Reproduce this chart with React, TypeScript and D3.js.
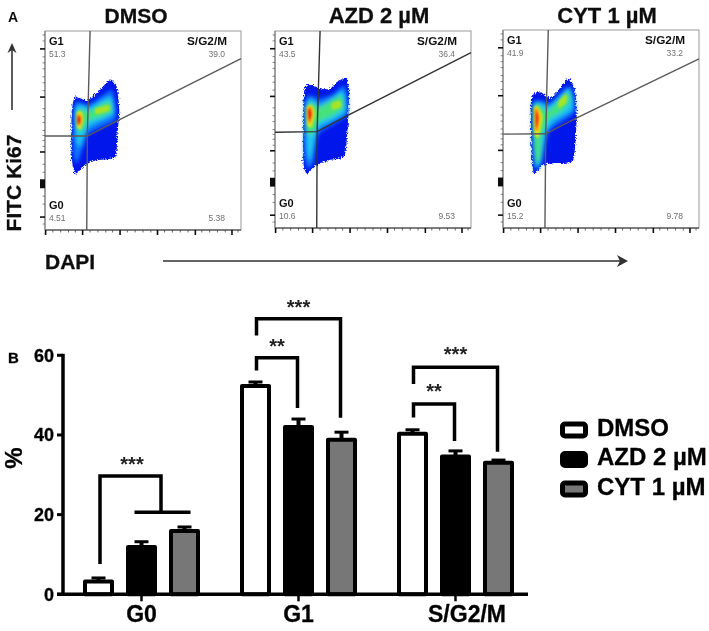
import * as d3 from "d3"

// ---- flow panels ----
const panelNames = ["DMSO", "AZD 2 µM", "CYT 1 µM"]
const g1Values = ["51.3", "43.5", "41.9"]
const sg2mValues = ["39.0", "36.4", "33.2"]
const g0Values = ["4.51", "10.6", "15.2"]
const rightLowValues = ["5.38", "9.53", "9.78"]

// gate vertices, in percent of the panel axes
const gateVertical = [
  [[23, 100], [21.6, 47.2], [21.3, 0]],
  [[23, 100], [21.5, 48.9], [21.3, 0]],
  [[23.1, 100], [21.8, 47.6], [21.4, 0]],
]
const gateCurve = [
  [[0, 47.2], [21.6, 47.2], [35.8, 54.3], [100, 86.1]],
  [[0, 48.6], [21.5, 48.9], [37.4, 57.3], [100, 89]],
  [[0, 47.4], [21.8, 47.6], [37.4, 55.5], [100, 85.4]],
]

// density contours, percent of panel axes, outermost first
const densityColors = ["#0418ea", "#0c78ff", "#1cc8ee", "#44e27a", "#d8e61e", "#ff8a10", "#e8140c"]
const dmsoContours = [
  [[15.3, 67], [21.3, 65], [28.1, 70.4], [33.2, 75.7], [36.6, 72], [37.9, 60.3], [37, 48.6], [35.7, 36.5], [24.7, 34.8], [19.6, 31.8], [15.3, 28.1], [13.6, 36.8], [13.6, 58.6]],
  [[14.8, 60.3], [16.2, 64.5], [22.1, 62.8], [29.8, 67.8], [34, 70.4], [35.7, 63.6], [35.7, 55.3], [22.1, 48.6], [19.6, 41.9], [16.2, 33.5], [14.5, 38.5]],
  [[15.3, 61.1], [19.6, 62.8], [22.1, 61.1], [28.1, 64.5], [33.2, 67], [34.9, 64.5], [34.9, 58.6], [28.9, 55.3], [22.1, 51.9], [19.9, 46.9], [17.9, 41.9], [15.8, 45.2]],
  [[15.8, 59.5], [19.6, 60.3], [22.1, 59.5], [28.1, 62.8], [33.2, 64.5], [34.2, 59.5], [28.1, 56.6], [22.1, 55], [19.9, 51.1], [17, 48.6]],
  [[16.2, 59], [18.7, 59.5], [19.6, 55.3], [18.2, 50.6], [16.5, 51.6]],
  [[16.2, 57.8], [18.2, 58.1], [18.9, 55.3], [17.9, 52.3], [16.5, 52.8]],
  [[16.5, 56.9], [17.9, 56.9], [18.2, 54.9], [17.4, 53.1], [16.7, 53.9]],
]
const azdContours = [
  [[15.3, 71.4], [17.9, 73], [23, 70.9], [28, 70.5], [32.3, 74.7], [36.6, 75.6], [37.8, 70.5], [37.4, 57.1], [35.7, 36.9], [28, 34.4], [21.3, 31.9], [16.2, 27.7], [14.5, 33.6], [14.5, 63.8]],
  [[15.3, 63.8], [17.9, 67.2], [23, 65.5], [29.8, 68], [34.9, 72.2], [36.6, 68.9], [36.6, 57.1], [22.1, 47.9], [19.6, 33.6], [16.7, 30.2], [15, 38.6]],
  [[15.6, 62.1], [18.7, 65.5], [22.4, 62.1], [29.8, 66.3], [34, 69.7], [35.7, 66.3], [35.7, 58.8], [28.9, 54.6], [22.1, 51.2], [20.4, 43.7], [17.9, 33.6], [16.2, 40.3]],
  [[15.6, 60.5], [18.7, 63.8], [22.1, 61.3], [29.8, 65.5], [34, 67.2], [34.9, 61.3], [29.8, 57.1], [22.1, 53.7], [20.1, 48.7], [16.7, 47]],
  [[16.2, 61.3], [19, 62.5], [20.4, 57.9], [18.7, 51.2], [16.5, 52.1]],
  [[16.3, 60.5], [18.4, 61.8], [19.4, 57.9], [18, 52.9], [16.7, 54.6]],
  [[16.8, 59.6], [18, 60.5], [18.7, 57.9], [17.9, 54.6], [17, 55.8]],
]
const cytContours = [
  [[15.1, 67.2], [18.9, 68.9], [24, 65.5], [29.1, 70.6], [33.3, 75.6], [36.7, 69.7], [37.6, 56.3], [35.9, 34.4], [26.5, 32.8], [20.6, 31.9], [15.8, 27.7], [14.6, 37.8], [14.1, 61.3]],
  [[15.1, 63], [19.7, 64.3], [24, 63], [30.8, 69.7], [34.2, 71.4], [36.2, 66.4], [36.2, 58], [23.1, 48.7], [19.7, 32.8], [16.3, 29.4], [15.1, 41.2]],
  [[15.5, 62.2], [19.2, 63], [23.1, 61.3], [29.9, 67.2], [33.8, 70.6], [35.5, 65.5], [35, 59.6], [25.7, 53.8], [22.3, 48.7], [19.7, 34.4], [16.8, 31.1], [15.5, 42.8]],
  [[15.5, 61.3], [18.5, 62.2], [22.3, 58.8], [29.9, 65.5], [33.3, 69.4], [34.2, 64.7], [29.9, 58.8], [23.1, 54.6], [19.7, 46.2], [19.2, 36.1], [16.8, 32.8], [15.8, 44.5]],
  [[15.8, 60.5], [18, 61.3], [20.2, 56.3], [18.5, 46.2], [16.1, 47]],
  [[16.1, 59.6], [17.5, 60.5], [18.9, 56.3], [17.9, 49.6], [16.5, 49.6]],
  [[16.5, 58], [17.3, 58.3], [18, 55.4], [17.3, 51.2], [16.7, 51.2]],
]
const panelContours = [dmsoContours, azdContours, cytContours]
// second lobe of the yellow level, on the S/G2/M shoulder
const shoulderContours = [
  [[25.5, 60.8], [32.3, 62.8], [32.8, 60], [26.4, 58.1]],
  [[28.9, 63.3], [33.2, 64.7], [33.7, 61.3], [29.3, 60.1]],
  [[28.2, 63.8], [32.1, 67.7], [32.5, 63.8], [28.7, 60.5]],
]

const xMajor = [0.3, 19.2, 38.3, 57.4, 76.7, 95.4]
const xMinor = [4, 8, 12, 15.5, 23, 27, 31, 34.5, 42, 46, 50, 54, 61, 65, 69, 73, 80, 84, 88, 92, 98.5]
const yMajor = [6.5, 23.6, 39.2, 66.8, 91]
const yMinor = [3, 13, 17, 29, 33, 42, 45, 47.5, 50, 54, 57, 61, 70, 74, 77, 81, 84, 87, 95, 98]

// ---- bar chart ----
const groups = ["G0", "G1", "S/G2/M"]
const seriesNames = ["DMSO", "AZD 2 µM", "CYT 1 µM"]
const seriesFills = ["#ffffff", "#000000", "#777777"]
const dmsoMeans = [3.2, 52.3, 40.3]
const azdMeans = [11.9, 42, 34.6]
const cytMeans = [15.9, 38.8, 33]
const dmsoErr = [0.9, 1, 1]
const azdErr = [1.3, 2, 1.4]
const cytErr = [1, 1.9, 0.7]
const means = [dmsoMeans, azdMeans, cytMeans]
const errs = [dmsoErr, azdErr, cytErr]
const yTicks = [0, 20, 40, 60]

// significance brackets: y values on the % scale
const brackets = [
  { group: "G1", to: "AZD 2 µM", top: 59.4, fromEnd: 56.2, toEnd: 46.8, stars: "**", starsAt: 63.4 },
  { group: "G1", to: "CYT 1 µM", top: 69.2, fromEnd: 65, toEnd: 44.3, stars: "***", starsAt: 73.2 },
  { group: "S/G2/M", to: "AZD 2 µM", top: 47.8, fromEnd: 44.4, toEnd: 38.5, stars: "**", starsAt: 52.1 },
  { group: "S/G2/M", to: "CYT 1 µM", top: 57, fromEnd: 52.8, toEnd: 35.8, stars: "***", starsAt: 61.4 },
]

const font = "'Liberation Sans', Arial, sans-serif"
const ink = "#000"
const frames = [
  { x0: 45, x1: 241, y0: 31, y1: 230, titleX: 136 },
  { x0: 275, x1: 471, y0: 31, y1: 228, titleX: 379 },
  { x0: 503, x1: 699, y0: 30, y1: 228, titleX: 607 },
]

function Panel({ i }: { i: number }) {
  const f = frames[i]
  const x = d3.scaleLinear().domain([0, 100]).range([f.x0, f.x1])
  const y = d3.scaleLinear().domain([0, 100]).range([f.y1, f.y0])
  const line = d3.line<number[]>().x(d => x(d[0])).y(d => y(d[1]))
  const blob = d3.line<number[]>().x(d => x(d[0])).y(d => y(d[1])).curve(d3.curveCardinalClosed.tension(0.45))
  const label = (t: string, tx: number, ty: number, o: any = {}) =>
    <text x={tx} y={ty} fontFamily={font} fontSize={11} fontWeight={700} fill="#111" {...o}>{t}</text>
  const pct = (t: string, tx: number, ty: number, o: any = {}) =>
    <text x={tx} y={ty} fontFamily={font} fontSize={8.5} fill="#6f6f6f" {...o}>{t}</text>
  const contours = panelContours[i]
  return (
    <g>
      <text x={f.titleX} y={23} textAnchor="middle" fontFamily={font} fontSize={i === 0 ? 21 : 22} fontWeight={700} fill="#111" stroke="#111" strokeWidth={0.3}>{panelNames[i]}</text>
      <rect x={f.x0} y={f.y0} width={f.x1 - f.x0} height={f.y1 - f.y0} fill="#fff" stroke="#999" strokeWidth={1} />
      <line x1={f.x0} x2={f.x1} y1={f.y1} y2={f.y1} stroke="#333" strokeWidth={1.2} />
      <line x1={f.x0} x2={f.x0} y1={f.y0} y2={f.y1} stroke="#777" strokeWidth={1} />
      {xMajor.map(t => <line key={t} x1={x(t)} x2={x(t)} y1={f.y1} y2={f.y1 + 5} stroke="#111" strokeWidth={1.6} />)}
      {xMinor.map(t => <line key={t} x1={x(t)} x2={x(t)} y1={f.y1} y2={f.y1 + 2.5} stroke="#444" strokeWidth={0.8} />)}
      {yMajor.map(t => <line key={t} x1={f.x0 - 5} x2={f.x0} y1={y(t)} y2={y(t)} stroke="#111" strokeWidth={1.6} />)}
      {yMinor.map(t => <line key={t} x1={f.x0 - 2.5} x2={f.x0} y1={y(t)} y2={y(t)} stroke="#555" strokeWidth={0.7} />)}
      <rect x={f.x0 - 5} y={y(25.5)} width={5} height={y(21) - y(25.5)} fill="#111" />
      <g filter="url(#cloudEdge)">
        <path d={blob(contours[0])!} fill={densityColors[0]} />
      </g>
      <g filter="url(#cloudBlur)">
        {contours.slice(1, 4).map((c, k) => <path key={k} d={blob(c)!} fill={densityColors[k + 1]} />)}
      </g>
      <g filter="url(#hotBlur)">
        <path d={blob(shoulderContours[i])!} fill="#a8e428" />
        {contours.slice(4).map((c, k) => <path key={k} d={blob(c)!} fill={densityColors[k + 4]} />)}
      </g>
      <path d={line(gateVertical[i])!} fill="none" stroke={i === 1 ? "#333" : "#5a5a5a"} strokeWidth={1.4} />
      <path d={line(gateCurve[i])!} fill="none" stroke={i === 1 ? "#333" : "#5a5a5a"} strokeWidth={1.4} />
      {label("G1", f.x0 + 4, f.y0 + 14)}
      {label("S/G2/M", f.x1 - 14, f.y0 + 14, { textAnchor: "end", fontSize: 11.8 })}
      {label("G0", f.x0 + 4, f.y1 - 21)}
      {pct(g1Values[i], f.x0 + 4, f.y0 + 26)}
      {pct(sg2mValues[i], f.x1 - 16, f.y0 + 26, { textAnchor: "end" })}
      {pct(g0Values[i], f.x0 + 4, f.y1 - 9)}
      {pct(rightLowValues[i], f.x1 - 16, f.y1 - 9, { textAnchor: "end" })}
    </g>
  )
}

function Bars() {
  const y = d3.scaleLinear().domain([0, 60]).range([594.3, 355.3])
  const x0 = d3.scalePoint<string>().domain(groups).range([141.5, 455.5])
  const x1 = d3.scalePoint<string>().domain(seriesNames).range([-43, 43])
  const barX = (g: string, s: string) => x0(g)! + x1(s)!
  const path = d3.path
  const bracketPath = (b: typeof brackets[number]) => {
    const p = path()
    const l = barX(b.group, "DMSO") + 1
    const r = barX(b.group, b.to) - 1
    p.moveTo(l, y(b.fromEnd)); p.lineTo(l, y(b.top)); p.lineTo(r, y(b.top)); p.lineTo(r, y(b.toEnd))
    return p.toString()
  }
  // G0 comparison joins DMSO to a bar spanning the two treated groups
  const g0Left = barX("G0", "DMSO") + 1.5
  const g0Left2 = barX("G0", "AZD 2 µM") - 7
  const g0Right2 = barX("G0", "CYT 1 µM") + 6
  const g0Mid = (barX("G0", "AZD 2 µM") + barX("G0", "CYT 1 µM")) / 2 - 2
  const g0p = path()
  g0p.moveTo(g0Left, y(7.6)); g0p.lineTo(g0Left, y(29.7)); g0p.lineTo(g0Mid, y(29.7)); g0p.lineTo(g0Mid, y(20.6))
  g0p.moveTo(g0Left2, y(20.6)); g0p.lineTo(g0Right2, y(20.6))
  const bold = { fontFamily: font, fontWeight: 700, fill: ink, stroke: ink, strokeWidth: 0.3 }
  return (
    <g>
      {seriesNames.map((s, si) => groups.map((g, gi) => {
        const cx = barX(g, s)
        const top = y(means[si][gi] + errs[si][gi])
        return (
          <g key={s + g}>
            <line x1={cx} x2={cx} y1={y(means[si][gi])} y2={top} stroke={ink} strokeWidth={4} />
            <line x1={cx - 7} x2={cx + 7} y1={top} y2={top} stroke={ink} strokeWidth={3} />
            <rect x={cx - 13.5} y={y(means[si][gi])} width={27} height={y(0) - y(means[si][gi])} fill={seriesFills[si]} stroke={ink} strokeWidth={4} strokeLinejoin="round" />
          </g>
        )
      }))}
      <line x1={63} x2={63} y1={y(60) - 1.5} y2={y(0) + 1.5} stroke={ink} strokeWidth={3.5} />
      <line x1={57} x2={528} y1={y(0)} y2={y(0)} stroke={ink} strokeWidth={3.5} />
      {yTicks.map(t => (
        <g key={t}>
          <line x1={57} x2={63} y1={y(t)} y2={y(t)} stroke={ink} strokeWidth={3} />
          <text x={54} y={y(t) + 6.5} textAnchor="end" fontSize={18} {...bold}>{t}</text>
        </g>
      ))}
      {groups.map((g, i) => (
        <g key={g}>
          <line x1={x0(g)!} x2={x0(g)!} y1={y(0)} y2={y(0) + 7} stroke={ink} strokeWidth={2.5} />
          <text x={x0(g)! + (i === 2 ? 11.5 : 0)} y={622} textAnchor="middle" fontSize={23} {...bold}>{g}</text>
        </g>
      ))}
      <text transform="translate(22,458) rotate(-90)" textAnchor="middle" fontSize={24} {...bold}>%</text>
      <path d={g0p.toString()} fill="none" stroke={ink} strokeWidth={3.5} />
      <text x={132} y={y(33.7) + 11} textAnchor="middle" fontFamily={font} fontSize={20} fontWeight={700} fill="#222">***</text>
      {brackets.map(b => (
        <g key={b.group + b.to}>
          <path d={bracketPath(b)} fill="none" stroke={ink} strokeWidth={3.5} />
          <text x={(barX(b.group, "DMSO") + barX(b.group, b.to)) / 2} y={y(b.starsAt) + 11} textAnchor="middle" fontFamily={font} fontSize={20} fontWeight={700} fill="#222">{b.stars}</text>
        </g>
      ))}
      <text x={8} y={363} fontSize={15} {...bold}>B</text>
      {seriesNames.map((s, i) => {
        const ly = d3.scalePoint<string>().domain(seriesNames).range([430, 489])(s)!
        return (
          <g key={s}>
            <rect x={562.5} y={ly - 6} width={23} height={12} rx={2.5} fill={seriesFills[i]} stroke={ink} strokeWidth={5} />
            <text x={597} y={ly + 5.5} fontSize={24} {...bold}>{s}</text>
          </g>
        )
      })}
    </g>
  )
}

export default function App() {
  return (
    <svg width={709} height={631} viewBox="0 0 709 631" style={{ position: "absolute", left: 0, top: 0, background: "#fff" }}>
      <defs>
        <filter id="cloudBlur" x="-30%" y="-30%" width="160%" height="160%"><feGaussianBlur stdDeviation={1.9} /></filter>
        <filter id="hotBlur" x="-40%" y="-40%" width="180%" height="180%"><feGaussianBlur stdDeviation={1} /></filter>
        <filter id="cloudEdge" x="-20%" y="-20%" width="140%" height="140%">
          <feTurbulence type="fractalNoise" baseFrequency={0.7} numOctaves={2} seed={4} result="n" />
          <feDisplacementMap in="SourceGraphic" in2="n" scale={5} xChannelSelector="R" yChannelSelector="G" />
          <feGaussianBlur stdDeviation={0.45} />
        </filter>
        <filter id="soft" x="-2%" y="-2%" width="104%" height="104%"><feGaussianBlur stdDeviation={0.35} /></filter>
      </defs>
      <g filter="url(#soft)">
        <text x={8} y={22} fontFamily={font} fontSize={14} fontWeight={700} fill="#111">A</text>
        {frames.map((_, i) => <Panel key={i} i={i} />)}
        <text transform="translate(21,183) rotate(-90)" textAnchor="middle" fontFamily={font} fontSize={21} fontWeight={700} fill="#111" stroke="#111" strokeWidth={0.3}>FITC Ki67</text>
        <text x={45} y={269} fontFamily={font} fontSize={21} fontWeight={700} fill="#111" stroke="#111" strokeWidth={0.3}>DAPI</text>
        <line x1={12} x2={12} y1={110} y2={47} stroke="#333" strokeWidth={1.6} />
        <path d="M7.5,53 L12,43 L16.5,53 L12,50 Z" fill="#333" />
        <line x1={163} x2={624} y1={261} y2={261} stroke="#333" strokeWidth={1.6} />
        <path d="M617,255 L628,261 L617,267 L620,261 Z" fill="#333" />
        <Bars />
      </g>
    </svg>
  )
}
